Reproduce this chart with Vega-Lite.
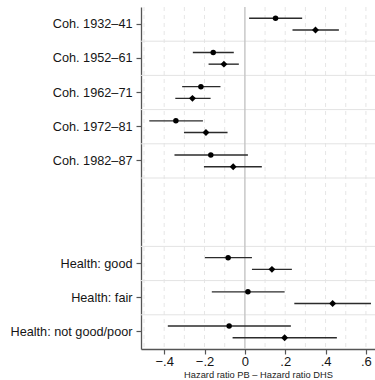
{
  "$schema": "https://vega.github.io/schema/vega-lite/v6.json",
  "autosize": {"type": "none"},
  "width": 234,
  "height": 342,
  "padding": {"left": 141, "top": 7, "right": 0, "bottom": 31},
  "background": "white",
  "config": {
    "view": {"stroke": null},
    "font": "Liberation Sans",
    "axis": {"labelFont": "Liberation Sans", "titleFont": "Liberation Sans"}
  },
  "datasets": {
    "estimates": [
      {"group": "Coh. 1932–41", "model": "Model 1", "est": 0.152, "lo": 0.021, "hi": 0.284},
      {"group": "Coh. 1932–41", "model": "Model 2", "est": 0.350, "lo": 0.236, "hi": 0.466},
      {"group": "Coh. 1952–61", "model": "Model 1", "est": -0.157, "lo": -0.258, "hi": -0.055},
      {"group": "Coh. 1952–61", "model": "Model 2", "est": -0.104, "lo": -0.180, "hi": -0.030},
      {"group": "Coh. 1962–71", "model": "Model 1", "est": -0.218, "lo": -0.311, "hi": -0.121},
      {"group": "Coh. 1962–71", "model": "Model 2", "est": -0.260, "lo": -0.345, "hi": -0.170},
      {"group": "Coh. 1972–81", "model": "Model 1", "est": -0.342, "lo": -0.474, "hi": -0.208},
      {"group": "Coh. 1972–81", "model": "Model 2", "est": -0.193, "lo": -0.302, "hi": -0.086},
      {"group": "Coh. 1982–87", "model": "Model 1", "est": -0.169, "lo": -0.349, "hi": 0.015},
      {"group": "Coh. 1982–87", "model": "Model 2", "est": -0.058, "lo": -0.203, "hi": 0.084},
      {"group": "Health: good", "model": "Model 1", "est": -0.083, "lo": -0.198, "hi": 0.035},
      {"group": "Health: good", "model": "Model 2", "est": 0.134, "lo": 0.035, "hi": 0.233},
      {"group": "Health: fair", "model": "Model 1", "est": 0.015, "lo": -0.164, "hi": 0.197},
      {"group": "Health: fair", "model": "Model 2", "est": 0.435, "lo": 0.245, "hi": 0.625},
      {"group": "Health: not good/poor", "model": "Model 1", "est": -0.078, "lo": -0.382, "hi": 0.228},
      {"group": "Health: not good/poor", "model": "Model 2", "est": 0.197, "lo": -0.061, "hi": 0.456}
    ],
    "separators": [
      {"group": "Coh. 1952–61"},
      {"group": "Coh. 1962–71"},
      {"group": "Coh. 1972–81"},
      {"group": "Coh. 1982–87"},
      {"group": "spacer 1"},
      {"group": "Health: good"},
      {"group": "Health: fair"},
      {"group": "Health: not good/poor"}
    ],
    "minorGrid": [
      {"diff": -0.5}, {"diff": -0.4}, {"diff": -0.3}, {"diff": -0.2}, {"diff": -0.1},
      {"diff": 0.1}, {"diff": 0.2}, {"diff": 0.3}, {"diff": 0.4}, {"diff": 0.5}, {"diff": 0.6}
    ],
    "reference": [{"diff": 0}]
  },
  "layer": [
    {
      "data": {"name": "minorGrid"},
      "mark": {"type": "rule", "color": "#e6e6e6", "strokeWidth": 1, "strokeDash": [4, 4]},
      "encoding": {
        "x": {
          "field": "diff",
          "type": "quantitative",
          "scale": {"domain": [-0.515, 0.645], "nice": false, "zero": false},
          "axis": {
            "values": [-0.4, -0.2, 0, 0.2, 0.4, 0.6],
            "labelExpr": "datum.value == 0 ? '0' : replace(format(datum.value, '.1f'), '0.', '.')",
            "title": "Hazard ratio PB – Hazard ratio DHS",
            "titleFontSize": 9.3,
            "titleFontWeight": "normal",
            "titleColor": "#222222",
            "titlePadding": 2.5,
            "grid": false,
            "domainColor": "#555555",
            "domainWidth": 1.3,
            "tickColor": "#555555",
            "tickWidth": 1.2,
            "tickSize": 5,
            "labelPadding": 1,
            "labelFontSize": 13,
            "labelColor": "#151515",
            "labelFlush": false
          }
        }
      }
    },
    {
      "data": {"name": "separators"},
      "mark": {"type": "rule", "color": "#e3e3e3", "strokeWidth": 1},
      "encoding": {
        "y": {
          "field": "group",
          "type": "nominal",
          "bandPosition": 0,
          "scale": {
            "domain": ["Coh. 1932–41", "Coh. 1952–61", "Coh. 1962–71", "Coh. 1972–81", "Coh. 1982–87", "spacer 1", "spacer 2", "Health: good", "Health: fair", "Health: not good/poor"],
            "paddingInner": 0,
            "paddingOuter": 0
          },
          "axis": {
            "values": ["Coh. 1932–41", "Coh. 1952–61", "Coh. 1962–71", "Coh. 1972–81", "Coh. 1982–87", "Health: good", "Health: fair", "Health: not good/poor"],
            "title": null,
            "grid": false,
            "domainColor": "#555555",
            "domainWidth": 1.3,
            "tickColor": "#555555",
            "tickWidth": 1.2,
            "tickSize": 5,
            "labelPadding": 4,
            "labelFontSize": 12.7,
            "labelColor": "#151515",
            "labelLimit": 200
          }
        }
      }
    },
    {
      "data": {"name": "reference"},
      "mark": {"type": "rule", "color": "#c4c4c4", "strokeWidth": 1.4},
      "encoding": {
        "x": {"field": "diff", "type": "quantitative"}
      }
    },
    {
      "data": {"name": "estimates"},
      "mark": {"type": "rule", "color": "#2b2b2b", "strokeWidth": 1.4},
      "encoding": {
        "y": {"field": "group", "type": "nominal"},
        "yOffset": {"field": "model", "type": "nominal", "scale": {"paddingInner": 0, "paddingOuter": 0.46}},
        "x": {"field": "lo", "type": "quantitative"},
        "x2": {"field": "hi"}
      }
    },
    {
      "data": {"name": "estimates"},
      "mark": {"type": "point", "filled": true, "opacity": 1, "color": "#000000"},
      "encoding": {
        "y": {"field": "group", "type": "nominal"},
        "yOffset": {"field": "model", "type": "nominal"},
        "x": {"field": "est", "type": "quantitative"},
        "shape": {
          "field": "model",
          "type": "nominal",
          "scale": {"domain": ["Model 1", "Model 2"], "range": ["circle", "diamond"]},
          "legend": null
        },
        "size": {
          "field": "model",
          "type": "nominal",
          "scale": {"domain": ["Model 1", "Model 2"], "range": [30, 48]},
          "legend": null
        }
      }
    }
  ]
}
